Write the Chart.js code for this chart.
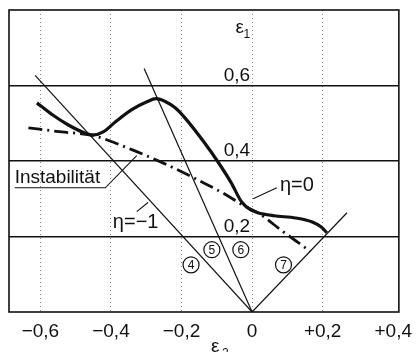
<!DOCTYPE html>
<html>
<head>
<meta charset="utf-8">
<script src="https://cdn.jsdelivr.net/npm/chart.js@4/dist/chart.umd.min.js"></script>
<style>
  html, body { margin: 0; padding: 0; background: #fff; }
  #wrap { width: 420px; height: 352px; }
</style>
</head>
<body>
<div id="wrap"><canvas id="c" width="420" height="352"></canvas></div>
<script>
// axis ticks
const xTickValues = [-0.6, -0.4, -0.2, 0, 0.2, 0.4];
const xTickLabels = ['−0,6', '−0,4', '−0,2', '0', '+0,2', '+0,4'];
const yTickValues = [0.2, 0.4, 0.6];
const yTickLabels = ['0,2', '0,4', '0,6'];

// forming limit curve (thick solid)
const flcE2 = [-0.610, -0.567, -0.522, -0.476, -0.449, -0.422, -0.387, -0.341, -0.298, -0.272, -0.245, -0.218,
               -0.191, -0.137, -0.097, -0.059, -0.030, -0.005, 0.016, 0.062, 0.124, 0.169, 0.196, 0.212];
const flcE1 = [0.554, 0.523, 0.496, 0.475, 0.469, 0.477, 0.504, 0.536, 0.557, 0.565, 0.557, 0.541,
               0.515, 0.451, 0.398, 0.342, 0.292, 0.271, 0.263, 0.255, 0.249, 0.239, 0.225, 0.210];

// instability curve (dash-dot)
const instE2 = [-0.634, -0.540, -0.449, -0.341, -0.253, -0.164, -0.073, -0.019, 0.016, 0.089, 0.132, 0.165];
const instE1 = [0.488, 0.477, 0.467, 0.430, 0.395, 0.355, 0.310, 0.279, 0.263, 0.212, 0.183, 0.160];

// strain paths from origin
const path4E2 = [0, -0.615];
const path4E1 = [0, 0.627];
const path6E2 = [0, -0.306];
const path6E1 = [0, 0.645];
const path7E2 = [0, 0.269];
const path7E1 = [0, 0.263];

const pts = (xs, ys) => xs.map((v, i) => ({ x: v, y: ys[i] }));
const FONT = '"Liberation Sans", Arial, sans-serif';

const overlay = {
    id: 'overlay',
    afterDatasetsDraw(chart) {
        const { ctx, chartArea: a, scales: { x, y } } = chart;
        const px = v => x.getPixelForValue(v);
        const py = v => y.getPixelForValue(v);
        ctx.save();

        // frame
        ctx.strokeStyle = '#111';
        ctx.lineWidth = 1.6;
        ctx.strokeRect(a.left, a.top, a.right - a.left, a.bottom - a.top);

        // y tick labels, inside the plot left of e2 = 0
        ctx.fillStyle = '#111';
        ctx.font = '19px ' + FONT;
        ctx.textAlign = 'right';
        ctx.textBaseline = 'alphabetic';
        yTickValues.forEach((v, i) => ctx.fillText(yTickLabels[i], px(0) - 2, py(v) - 5));

        // axis names
        ctx.fillText('ε', px(0) - 8, a.top + 23);
        ctx.font = '12px ' + FONT;
        ctx.fillText('1', px(0) - 2, a.top + 28);
        ctx.font = '19px ' + FONT;
        ctx.textAlign = 'left';
        ctx.fillText('ε', px(0) - 41, 352);
        ctx.font = '12px ' + FONT;
        ctx.fillText('2', px(0) - 30, 357);

        // thin leader lines
        ctx.lineWidth = 1.1;
        ctx.beginPath();
        ctx.moveTo(px(-0.673), py(0.329));
        ctx.lineTo(px(-0.416), py(0.329));
        ctx.lineTo(px(-0.327), py(0.414));
        ctx.moveTo(px(-0.327), py(0.266));
        ctx.lineTo(px(-0.295), py(0.290));
        ctx.moveTo(px(0.003), py(0.300));
        ctx.lineTo(px(0.070), py(0.329));
        ctx.stroke();

        // labels
        ctx.font = '19px ' + FONT;
        ctx.textAlign = 'left';
        ctx.fillText('Instabilität', px(-0.673), py(0.341));
        ctx.textAlign = 'center';
        ctx.textBaseline = 'middle';
        ctx.font = '20px ' + FONT;
        ctx.fillText('η=−1', px(-0.330), py(0.236));
        ctx.fillText('η=0', px(0.127), py(0.335));

        // circled path numbers
        const circled = [['4', -0.173, 0.125], ['5', -0.114, 0.165], ['6', -0.032, 0.165], ['7', 0.089, 0.125]];
        ctx.font = '12px ' + FONT;
        ctx.lineWidth = 1.2;
        circled.forEach(([t, e2, e1]) => {
            ctx.beginPath();
            ctx.arc(px(e2), py(e1), 8, 0, Math.PI * 2);
            ctx.stroke();
            ctx.fillText(t, px(e2), py(e1) + 1);
        });
        ctx.restore();
    }
};

const thin = { borderColor: '#111', borderWidth: 1.2, pointRadius: 0, tension: 0, fill: false };

new Chart(document.getElementById('c'), {
    type: 'line',
    data: {
        datasets: [
            { data: pts(flcE2, flcE1), borderColor: '#111', borderWidth: 3.2, pointRadius: 0, cubicInterpolationMode: 'monotone', fill: false },
            { data: pts(instE2, instE1), borderColor: '#111', borderWidth: 2.8, borderDash: [14, 5, 2, 5], pointRadius: 0, cubicInterpolationMode: 'monotone', fill: false },
            { data: pts(path4E2, path4E1), ...thin },
            { data: pts(path6E2, path6E1), ...thin },
            { data: pts(path7E2, path7E1), ...thin }
        ]
    },
    options: {
        responsive: false,
        animation: false,
        layout: { padding: { top: 10, right: 2, left: 0, bottom: 0 } },
        plugins: { legend: { display: false }, tooltip: { enabled: false } },
        scales: {
            x: {
                type: 'linear',
                min: -0.689,
                max: 0.416,
                afterBuildTicks: s => { s.ticks = xTickValues.map(v => ({ value: v })); },
                afterFit: s => { s.height = 40; },
                ticks: {
                    autoSkip: false,
                    maxRotation: 0,
                    padding: 8,
                    color: '#111',
                    font: { family: FONT, size: 19 },
                    callback: v => xTickLabels[xTickValues.indexOf(v)]
                },
                grid: {
                    drawTicks: false,
                    lineWidth: 1,
                    color: c => (c.tick && c.tick.value === 0.4) ? 'rgba(0,0,0,0)' : '#8a8a8a'
                },
                border: { display: false, dash: [1, 3] }
            },
            y: {
                type: 'linear',
                min: 0,
                max: 0.8,
                afterBuildTicks: s => { s.ticks = yTickValues.map(v => ({ value: v })); },
                afterFit: s => { s.width = 9; },
                ticks: { display: false },
                grid: { drawTicks: false, color: '#111', lineWidth: 1.5 },
                border: { display: false }
            }
        }
    },
    plugins: [overlay]
});
</script>
</body>
</html>
